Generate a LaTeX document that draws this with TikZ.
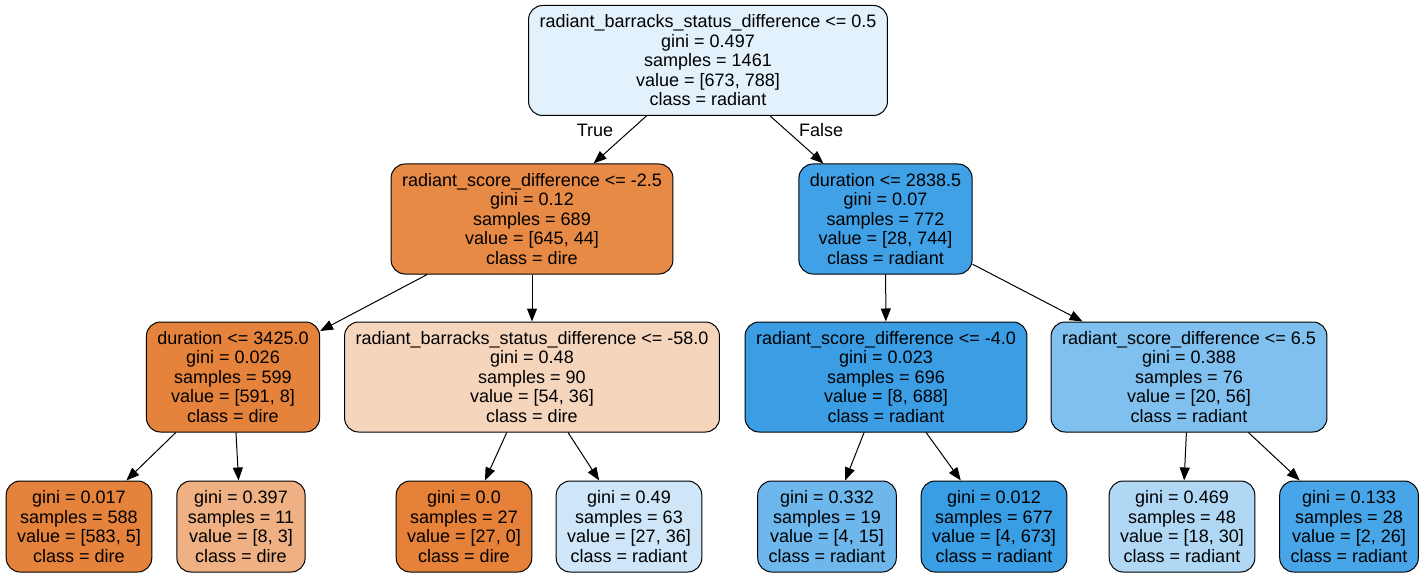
\documentclass[tikz,border=0pt]{standalone}
\usepackage{fontspec}
\setmainfont{Liberation Sans}
\usetikzlibrary{arrows.meta}
\definecolor{cRoot}{RGB}{226,241,251}
\definecolor{cA}{RGB}{231,138,70}
\definecolor{cB}{RGB}{64,161,230}
\definecolor{cC}{RGB}{229,131,60}
\definecolor{cD}{RGB}{246,213,189}
\definecolor{cE}{RGB}{59,158,229}
\definecolor{cF}{RGB}{128,192,238}
\definecolor{cLa}{RGB}{229,130,59}
\definecolor{cLb}{RGB}{239,176,131}
\definecolor{cLc}{RGB}{229,129,57}
\definecolor{cLd}{RGB}{206,230,248}
\definecolor{cLe}{RGB}{110,183,236}
\definecolor{cLf}{RGB}{58,158,229}
\definecolor{cLg}{RGB}{176,216,245}
\definecolor{cLh}{RGB}{72,165,231}
\begin{document}
\begin{tikzpicture}[x=1pt,y=-1pt,
  tree/.style={draw=black,line width=1pt,rounded corners=14pt,align=center,
    inner xsep=11pt,inner ysep=0pt,font=\fontsize{18}{19.5}\selectfont},
  inner/.style={tree,minimum height=110pt},
  leaf/.style={tree,minimum height=91pt},
  edge/.style={line width=1pt,-{Triangle[length=13pt,width=10pt]}},
  lab/.style={font=\fontsize{18}{19.5}\selectfont}]
\useasboundingbox (0,0) rectangle (1423,577);
\node[inner,fill=cRoot] (n0) at (708,60.5) {radiant\_barracks\_status\_difference <= 0.5\\gini = 0.497\\samples = 1461\\value = [673, 788]\\class = radiant};
\node[inner,fill=cA] (n1) at (532,219) {radiant\_score\_difference <= -2.5\\gini = 0.12\\samples = 689\\value = [645, 44]\\class = dire};
\node[inner,fill=cB] (n2) at (885.5,219) {duration <= 2838.5\\gini = 0.07\\samples = 772\\value = [28, 744]\\class = radiant};
\node[inner,fill=cC] (n3) at (233,377) {duration <= 3425.0\\gini = 0.026\\samples = 599\\value = [591, 8]\\class = dire};
\node[inner,fill=cD] (n4) at (532,377) {radiant\_barracks\_status\_difference <= -58.0\\gini = 0.48\\samples = 90\\value = [54, 36]\\class = dire};
\node[inner,fill=cE] (n5) at (886,377) {radiant\_score\_difference <= -4.0\\gini = 0.023\\samples = 696\\value = [8, 688]\\class = radiant};
\node[inner,fill=cF] (n6) at (1189,377) {radiant\_score\_difference <= 6.5\\gini = 0.388\\samples = 76\\value = [20, 56]\\class = radiant};
\node[leaf,fill=cLa] (l1) at (79,526.5) {gini = 0.017\\samples = 588\\value = [583, 5]\\class = dire};
\node[leaf,fill=cLb] (l2) at (241,526.5) {gini = 0.397\\samples = 11\\value = [8, 3]\\class = dire};
\node[leaf,fill=cLc] (l3) at (464,526.5) {gini = 0.0\\samples = 27\\value = [27, 0]\\class = dire};
\node[leaf,fill=cLd] (l4) at (629,526.5) {gini = 0.49\\samples = 63\\value = [27, 36]\\class = radiant};
\node[leaf,fill=cLe] (l5) at (827,526.5) {gini = 0.332\\samples = 19\\value = [4, 15]\\class = radiant};
\node[leaf,fill=cLf] (l6) at (994,526.5) {gini = 0.012\\samples = 677\\value = [4, 673]\\class = radiant};
\node[leaf,fill=cLg] (l7) at (1182,526.5) {gini = 0.469\\samples = 48\\value = [18, 30]\\class = radiant};
\node[leaf,fill=cLh] (l8) at (1349,526.5) {gini = 0.133\\samples = 28\\value = [2, 26]\\class = radiant};
\draw[edge] (n0) -- (n1);
\draw[edge] (n0) -- (n2);
\draw[edge] (n1) -- (n3);
\draw[edge] (n1) -- (n4);
\draw[edge] (n2) -- (n5);
\draw[edge] (n2) -- (n6);
\draw[edge] (n3) -- (l1);
\draw[edge] (n3) -- (l2);
\draw[edge] (n4) -- (l3);
\draw[edge] (n4) -- (l4);
\draw[edge] (n5) -- (l5);
\draw[edge] (n5) -- (l6);
\draw[edge] (n6) -- (l7);
\draw[edge] (n6) -- (l8);
\node[lab] (tTrue) at (595,130) {True};
\node[lab] (tFalse) at (821,130) {False};
\end{tikzpicture}
\end{document}
